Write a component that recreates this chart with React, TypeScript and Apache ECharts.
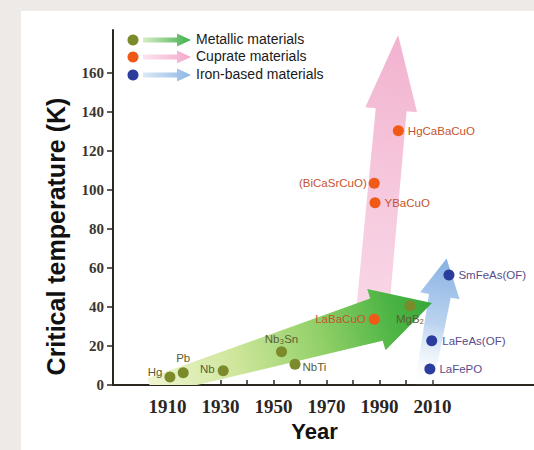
import React, { useEffect, useRef } from "react";
import * as echarts from "echarts";

// ---- data ----
const metallicNames = ["Hg", "Pb", "Nb", "Nb₃Sn", "NbTi", "MgB₂"];
const metallicYears = [1910.9, 1915.9, 1931.0, 1953.0, 1958.1, 2001.5];
const metallicTc = [4.1, 6.3, 7.3, 17.1, 10.6, 40.6];

const cuprateNames = ["LaBaCuO", "YBaCuO", "(BiCaSrCuO)", "HgCaBaCuO"];
const cuprateYears = [1988.0, 1988.3, 1988.0, 1997.1];
const cuprateTc = [33.7, 93.4, 103.4, 130.3];

const ironNames = ["LaFePO", "LaFeAs(OF)", "SmFeAs(OF)"];
const ironYears = [2009.0, 2009.7, 2016.2];
const ironTc = [8.2, 22.7, 56.4];

const xLabelYears = [1910, 1930, 1950, 1970, 1990, 2010];
const xTickYears = [1910, 1920, 1930, 1940, 1950, 1960, 1970, 1980, 1990, 2000, 2010];
const yTickValues = [0, 20, 40, 60, 80, 100, 120, 140, 160];

const legendNames = ["Metallic materials", "Cuprate materials", "Iron-based materials"];

// trend arrows: [tailYear, tailTc, tipYear, tipTc]
const metallicTrend = [1903.4, -1.0, 2009.8, 42.0];
const cuprateTrend = [1986.7, 28.2, 1997.0, 179.4];
const ironTrend = [2006.4, -2.6, 2015.3, 64.9];

// ---- styles ----
const COLORS = {
  metallic: "#7b8a2b",
  cuprate: "#f05a16",
  iron: "#2a3d9c",
  metallicLabel: "#5c5e32",
  cuprateLabel: "#c4552c",
  ironLabel: "#5a4b8c",
};

const labelPlacement: Record<string, any> = {
  Hg: { position: "left", distance: 2, offset: [0, -5] },
  Pb: { position: "top", distance: 3 },
  Nb: { position: "left", distance: 3, offset: [0, -2] },
  "Nb₃Sn": { position: "top", distance: 1 },
  NbTi: { position: "right", distance: 2, offset: [0, 3] },
  "MgB₂": { position: "bottom", distance: 2 },
  LaBaCuO: { position: "left", distance: 3 },
  YBaCuO: { position: "right", distance: 4 },
  "(BiCaSrCuO)": { position: "left", distance: 2 },
  HgCaBaCuO: { position: "right", distance: 4 },
  LaFePO: { position: "right", distance: 4 },
  "LaFeAs(OF)": { position: "right", distance: 5 },
  "SmFeAs(OF)": { position: "right", distance: 4 },
};

type ArrowSpec = { tailW: number; neckW: number; headW: number; headLen: number; stops: any[] };

const arrowSpecs: Record<string, ArrowSpec> = {
  metallic: {
    tailW: 18, neckW: 44, headW: 64, headLen: 58,
    stops: [
      { offset: 0, color: "#eef5d0" },
      { offset: 0.3, color: "#cfe69c" },
      { offset: 0.6, color: "#92d068" },
      { offset: 0.85, color: "#4db544" },
      { offset: 1, color: "#36a83a" },
    ],
  },
  cuprate: {
    tailW: 33, neckW: 31, headW: 52, headLen: 75,
    stops: [
      { offset: 0, color: "rgba(246,200,222,0.7)" },
      { offset: 1, color: "#f2b2cf" },
    ],
  },
  iron: {
    tailW: 18, neckW: 22, headW: 40, headLen: 38,
    stops: [
      { offset: 0, color: "rgba(255,255,255,0)" },
      { offset: 0.5, color: "rgba(170,200,236,0.8)" },
      { offset: 1, color: "#86b1e2" },
    ],
  },
};

function arrowRenderer(spec: ArrowSpec) {
  return (params: any, api: any) => {
    const p0 = api.coord([api.value(0), api.value(1)]);
    const p1 = api.coord([api.value(2), api.value(3)]);
    const dx = p1[0] - p0[0];
    const dy = p1[1] - p0[1];
    const len = Math.hypot(dx, dy);
    const ux = dx / len;
    const uy = dy / len;
    const nx = -uy;
    const ny = ux;
    const hb = [p1[0] - ux * spec.headLen, p1[1] - uy * spec.headLen];
    const pt = (b: number[], w: number) => [b[0] + nx * w / 2, b[1] + ny * w / 2];
    const points = [
      pt(p0, spec.tailW),
      pt(hb, spec.neckW),
      pt(hb, spec.headW),
      [p1[0], p1[1]],
      pt(hb, -spec.headW),
      pt(hb, -spec.neckW),
      pt(p0, -spec.tailW),
    ];
    return {
      type: "polygon",
      shape: { points },
      style: {
        fill: new echarts.graphic.LinearGradient(p0[0], p0[1], p1[0], p1[1], spec.stops, true),
      },
    };
  };
}

function scatterData(names: string[], years: number[], tcs: number[], labelColor: string) {
  return names.map((n, i) => ({
    name: n,
    value: [years[i], tcs[i]],
    label: {
      show: true,
      formatter: n,
      color: labelColor,
      fontSize: 11.5,
      fontFamily: "Liberation Sans, Arial, sans-serif",
      ...labelPlacement[n],
    },
  }));
}

function legendArrow(x: number, y: number, from: string, to: string) {
  return {
    type: "polygon",
    shape: {
      points: [
        [x, y - 2.5], [x + 34, y - 2.5], [x + 34, y - 6.5], [x + 48, y],
        [x + 34, y + 6.5], [x + 34, y + 2.5], [x, y + 2.5],
      ],
    },
    style: {
      fill: new echarts.graphic.LinearGradient(0, 0, 1, 0, [
        { offset: 0, color: from },
        { offset: 1, color: to },
      ]),
    },
  };
}

export default function App() {
  const ref = useRef<HTMLDivElement>(null);

  useEffect(() => {
    if (!ref.current) return;
    const chart = echarts.init(ref.current, null, { renderer: "svg" });

    const legendY = [40, 57, 75];
    const legendDot = [COLORS.metallic, COLORS.cuprate, COLORS.iron];
    const legendGrad = [
      ["#d6ecc8", "#3fb04a"],
      ["#fbe4ee", "#f2a9cb"],
      ["#dce9f7", "#8cb6e6"],
    ];

    const option: any = {
      animation: false,
      backgroundColor: "#eeeae7",
      grid: { left: 113, right: 0, top: 30, bottom: 65, outerBoundsMode: "none", containLabel: false },
      xAxis: {
        type: "value",
        min: 1889.4,
        max: 2048.3,
        name: "Year",
        nameLocation: "middle",
        nameGap: 32,
        nameTextStyle: {
          fontFamily: "Liberation Sans, Arial, sans-serif",
          fontWeight: "bold",
          fontSize: 22,
          color: "#111",
          padding: [0, 18, 0, 0],
        },
        axisLine: { show: true, lineStyle: { color: "#2b2620", width: 2 } },
        axisTick: {
          show: true,
          inside: true,
          length: 5,
          customValues: xTickYears,
          lineStyle: { color: "#2b2620", width: 1.5 },
        },
        axisLabel: {
          customValues: xLabelYears,
          formatter: (v: number) => String(v),
          margin: 12,
          fontFamily: "Liberation Serif, Times New Roman, serif",
          fontWeight: "bold",
          fontSize: 19,
          color: "#2a2522",
        },
        splitLine: { show: false },
      },
      yAxis: {
        type: "value",
        min: 0,
        max: 182,
        name: "Critical temperature (K)",
        nameLocation: "middle",
        nameGap: 45,
        nameRotate: 90,
        nameTextStyle: {
          fontFamily: "Liberation Sans, Arial, sans-serif",
          fontWeight: "bold",
          fontSize: 25,
          color: "#111",
          padding: [0, 58, 0, 0],
        },
        axisLine: { show: true, lineStyle: { color: "#2b2620", width: 2 } },
        axisTick: {
          show: true,
          inside: false,
          length: 6,
          customValues: yTickValues,
          lineStyle: { color: "#2b2620", width: 1.5 },
        },
        axisLabel: {
          customValues: yTickValues,
          formatter: (v: number) => String(v),
          margin: 9,
          fontFamily: "Liberation Serif, Times New Roman, serif",
          fontWeight: "bold",
          fontSize: 15,
          color: "#3a3530",
        },
        splitLine: { show: false },
      },
      graphic: [
        {
          type: "rect",
          z: -10,
          silent: true,
          shape: { x: 21, y: 11, width: 513, height: 439 },
          style: { fill: "#ffffff" },
        },
        ...legendY.flatMap((y, i) => [
          { type: "circle", z: 10, shape: { cx: 133, cy: y, r: 5.5 }, style: { fill: legendDot[i] } },
          { ...legendArrow(143, y, legendGrad[i][0], legendGrad[i][1]), z: 10 },
          {
            type: "text",
            z: 10,
            x: 196,
            y: y - 1.5,
            style: {
              text: legendNames[i],
              fill: "#1a1a1a",
              font: "14px 'Liberation Sans', Arial, sans-serif",
              textVerticalAlign: "middle",
              verticalAlign: "middle",
            },
          },
        ]),
      ],
      series: [
        {
          type: "custom",
          name: "Cuprate trend",
          z: 1,
          clip: true,
          silent: true,
          renderItem: arrowRenderer(arrowSpecs.cuprate),
          encode: { x: [0, 2], y: [1, 3] },
          data: [cuprateTrend],
        },
        {
          type: "custom",
          name: "Iron trend",
          z: 2,
          clip: true,
          silent: true,
          renderItem: arrowRenderer(arrowSpecs.iron),
          encode: { x: [0, 2], y: [1, 3] },
          data: [ironTrend],
        },
        {
          type: "custom",
          name: "Metallic trend",
          z: 3,
          clip: true,
          silent: true,
          renderItem: arrowRenderer(arrowSpecs.metallic),
          encode: { x: [0, 2], y: [1, 3] },
          data: [metallicTrend],
        },
        {
          type: "scatter",
          name: legendNames[0],
          z: 10,
          symbolSize: 11,
          itemStyle: { color: COLORS.metallic, opacity: 1 },
          data: scatterData(metallicNames, metallicYears, metallicTc, COLORS.metallicLabel),
        },
        {
          type: "scatter",
          name: legendNames[1],
          z: 10,
          symbolSize: 11,
          itemStyle: { color: COLORS.cuprate, opacity: 1 },
          data: scatterData(cuprateNames, cuprateYears, cuprateTc, COLORS.cuprateLabel),
        },
        {
          type: "scatter",
          name: legendNames[2],
          z: 10,
          symbolSize: 11,
          itemStyle: { color: COLORS.iron, opacity: 1 },
          data: scatterData(ironNames, ironYears, ironTc, COLORS.ironLabel),
        },
      ],
    };

    chart.setOption(option);
    return () => chart.dispose();
  }, []);

  return (
    <div
      ref={ref}
      style={{ position: "fixed", left: 0, top: 0, width: 534, height: 450 }}
    />
  );
}
